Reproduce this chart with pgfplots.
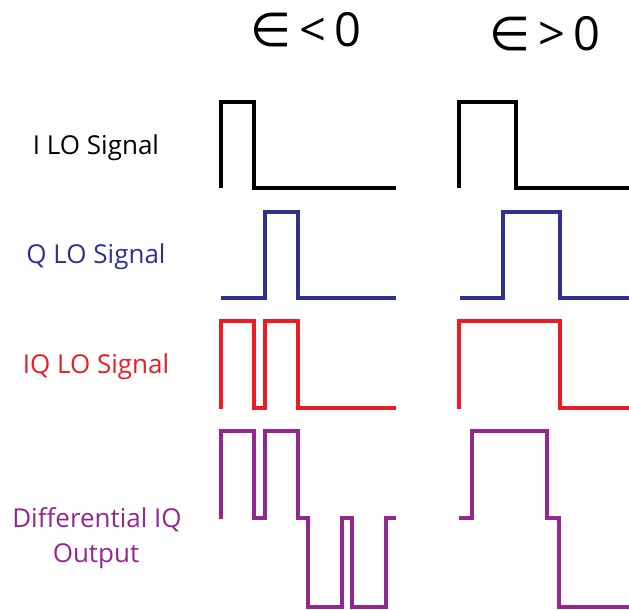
\documentclass[border=0pt]{standalone}
\usepackage{pgfplots}
\pgfplotsset{compat=1.18}
\usepackage{fontspec}
\setmainfont{Open Sans}
\newfontfamily\dejavu{DejaVu Sans}
\definecolor{qblue}{HTML}{2E3192}
\definecolor{iqred}{HTML}{ED1C24}
\definecolor{dpurple}{HTML}{92278F}
\begin{document}
\begin{tikzpicture}
\begin{axis}[
  width=629pt, height=610pt, scale only axis,
  xmin=0, xmax=629, ymin=0, ymax=610, y dir=reverse,
  hide axis, clip=false,
  every axis plot/.style={line width=3.8pt, line join=miter, line cap=butt, mark=none},
]
% I LO, eps<0
\addplot[black] coordinates {(221,188) (221,102) (254,102) (254,188) (396,188)};
% I LO, eps>0
\addplot[black] coordinates {(459,188) (459,102) (516,102) (516,188) (629,188)};
% Q LO, eps<0
\addplot[qblue] coordinates {(221,298) (265,298) (265,212) (298,212) (298,298) (396,298)};
% Q LO, eps>0
\addplot[qblue] coordinates {(460,298) (503,298) (503,212) (560,212) (560,298) (629,298)};
% IQ LO, eps<0
\addplot[iqred] coordinates {(221,409) (221,321) (254,321) (254,408) (265,408) (265,321) (298,321) (298,408) (396,408)};
% IQ LO, eps>0
\addplot[iqred] coordinates {(459,409) (459,321) (560,321) (560,408) (629,408)};
% Differential, eps<0
\addplot[dpurple] coordinates {(221,519) (221,431) (254,431) (254,518) (265,518) (265,431) (298,431) (298,518) (308,518) (308,607) (342,607) (342,518) (352,518) (352,607) (386,607) (386,518) (396,518)};
% Differential, eps>0
\addplot[dpurple] coordinates {(459,518) (472,518) (472,431) (547,431) (547,518) (559,518) (559,607) (629,607)};

\node[anchor=base, font=\fontsize{47}{50}\selectfont, inner sep=0pt] at (axis cs:306,47) {{\dejavu ∈}\,<\,0};
\node[anchor=base, font=\fontsize{47}{50}\selectfont, inner sep=0pt] at (axis cs:545,51) {{\dejavu ∈}\,>\,0};

\node[anchor=base, font=\fontsize{26}{30}\selectfont, inner sep=0pt, text=black] at (axis cs:96,154) {I LO Signal};
\node[anchor=base, font=\fontsize{26}{30}\selectfont, inner sep=0pt, text=qblue] at (axis cs:96,263) {Q LO Signal};
\node[anchor=base, font=\fontsize{26}{30}\selectfont, inner sep=0pt, text=iqred] at (axis cs:96,373) {IQ LO Signal};
\node[anchor=base, font=\fontsize{26}{30}\selectfont, inner sep=0pt, text=dpurple] at (axis cs:97,527) {Differential IQ};
\node[anchor=base, font=\fontsize{26}{30}\selectfont, inner sep=0pt, text=dpurple] at (axis cs:96,562) {Output};
\end{axis}
\pgfresetboundingbox
\path (current axis.south west) rectangle (current axis.north east);
\end{tikzpicture}
\end{document}
